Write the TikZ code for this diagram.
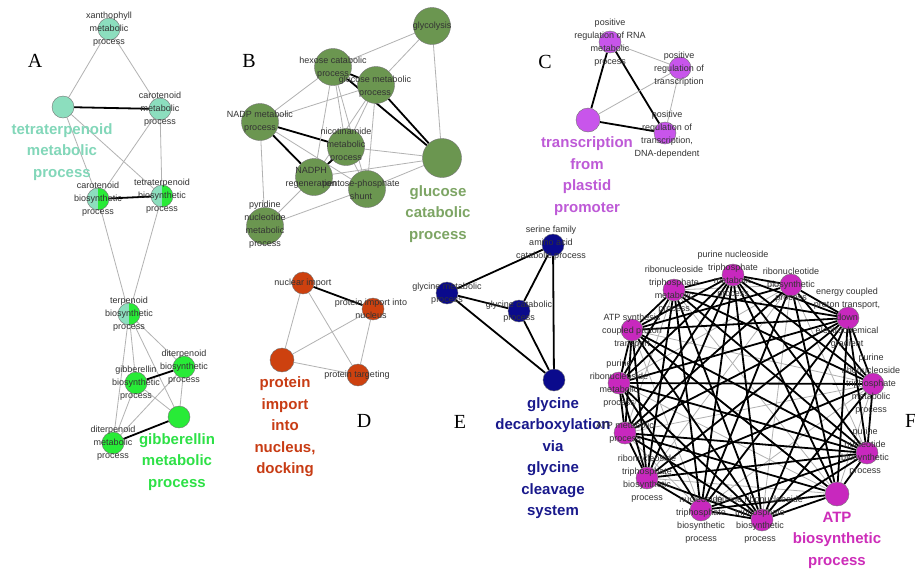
\documentclass[tikz,border=0pt]{standalone}
\usepackage{fontspec}
\setmainfont{Liberation Serif}
\setsansfont{Liberation Sans}
\usetikzlibrary{backgrounds}
\definecolor{aquaA}{RGB}{140,222,190}
\definecolor{aquaT}{RGB}{130,215,185}
\definecolor{greenA}{RGB}{40,235,55}
\definecolor{greenT}{RGB}{45,225,70}
\definecolor{oliveB}{RGB}{107,150,80}
\definecolor{oliveT}{RGB}{125,165,100}
\definecolor{purpleC}{RGB}{200,85,235}
\definecolor{purpleT}{RGB}{190,90,215}
\definecolor{redD}{RGB}{205,65,15}
\definecolor{redT}{RGB}{200,60,20}
\definecolor{blueE}{RGB}{10,10,140}
\definecolor{blueT}{RGB}{25,25,140}
\definecolor{magF}{RGB}{200,40,190}
\definecolor{magT}{RGB}{205,45,185}

\begin{document}
\begin{tikzpicture}[x=1pt,y=-1pt,
  term/.style={circle, draw=black!55, line width=0.4pt, minimum size=22pt, inner sep=0pt},
  bigterm/.style={term, minimum size=37pt},
  halfgreen/.style={path picture={\fill[greenA] (path picture bounding box.north) rectangle (path picture bounding box.south east);}},
  lbl/.style={font=\sffamily\fontsize{9}{13}\selectfont, text=black!80, align=center, inner sep=0pt},
  biglbl/.style={font=\sffamily\bfseries\fontsize{15}{21.5}\selectfont, align=center, inner sep=0pt},
  panel/.style={font=\fontsize{20}{24}\selectfont, inner sep=0pt},
  weak/.style={draw=black!30, line width=0.8pt},
  strong/.style={draw=black, line width=1.8pt}]
\useasboundingbox (0,0) rectangle (915,571);

% A
\node[term, fill=aquaA] (xan) at (109,29) {};
\node[term, fill=aquaA] (ttm) at (63,107) {};
\node[term, fill=aquaA] (carm) at (160,109) {};
\node[term, fill=aquaA, halfgreen] (carb) at (98,199) {};
\node[term, fill=aquaA, halfgreen] (ttb) at (162,196) {};
\node[term, fill=aquaA, halfgreen] (terb) at (129,314) {};
\node[term, fill=greenA] (dib) at (184,367) {};
\node[term, fill=greenA] (gib) at (136,383) {};
\node[term, fill=greenA] (gim) at (179,417) {};
\node[term, fill=greenA] (dim) at (113,443) {};
\node[lbl] at (xan) {xanthophyll\\metabolic\\process};
\node[lbl] at (carm) {carotenoid\\metabolic\\process};
\node[lbl] at (carb) {carotenoid\\biosynthetic\\process};
\node[lbl] at (ttb) {tetraterpenoid\\biosynthetic\\process};
\node[lbl] at (terb) {terpenoid\\biosynthetic\\process};
\node[lbl] at (dib) {diterpenoid\\biosynthetic\\process};
\node[lbl] at (gib) {gibberellin\\biosynthetic\\process};
\node[lbl] at (dim) {diterpenoid\\metabolic\\process};
\node[biglbl, text=aquaT] at (62,152) {tetraterpenoid\\metabolic\\process};
\node[biglbl, text=greenT] at (177,462) {gibberellin\\metabolic\\process};
\node[panel] at (35,61) {A};

% B
\node[bigterm, fill=oliveB] (gly) at (432,26) {};
\node[bigterm, fill=oliveB] (hex) at (333,67) {};
\node[bigterm, fill=oliveB] (glm) at (376,85) {};
\node[bigterm, fill=oliveB] (nadp) at (260,122) {};
\node[bigterm, fill=oliveB] (nic) at (346,147) {};
\node[bigterm, fill=oliveB] (nadph) at (314,177) {};
\node[bigterm, fill=oliveB] (pen) at (367,189) {};
\node[bigterm, fill=oliveB] (pyr) at (265,226) {};
\node[bigterm, fill=oliveB, minimum size=39pt] (glc) at (442,158) {};
\node[lbl] at (gly) {glycolysis};
\node[lbl] at (333,68) {hexose catabolic\\process};
\node[lbl] at (375,87) {glucose metabolic\\process};
\node[lbl] at (260,122) {NADP metabolic\\process};
\node[lbl] at (346,145) {nicotinamide\\metabolic\\process};
\node[lbl] at (311,178) {NADPH\\regeneration};
\node[lbl] at (361,190) {pentose-phosphate\\shunt};
\node[lbl] at (265,225) {pyridine\\nucleotide\\metabolic\\process};
\node[biglbl, text=oliveT] at (438,214) {glucose\\catabolic\\process};
\node[panel] at (249,61) {B};

% C
\node[term, fill=purpleC] (rna) at (610,42) {};
\node[term, fill=purpleC] (prt) at (680,68) {};
\node[term, fill=purpleC] (dna) at (665,133) {};
\node[term, fill=purpleC, minimum size=24pt] (tpp) at (588,120) {};
\node[lbl] at (610,43) {positive\\regulation of RNA\\metabolic\\process};
\node[lbl] at (679,69) {positive\\regulation of\\transcription};
\node[lbl] at (667,135) {positive\\regulation of\\transcription,\\DNA-dependent};
\node[biglbl, text=purpleT] at (587,176) {transcription\\from\\plastid\\promoter};
\node[panel] at (545,62) {C};

% D
\node[term, fill=redD] (nuc) at (303,283) {};
\node[term, fill=redD] (pin) at (373,309) {};
\node[term, fill=redD] (ptg) at (358,375) {};
\node[term, fill=redD, minimum size=24pt] (dock) at (282,360) {};
\node[lbl] at (nuc) {nuclear import};
\node[lbl] at (371,309) {protein import into\\nucleus};
\node[lbl] at (357,375) {protein targeting};
\node[biglbl, text=redT] at (285,427) {protein\\import\\into\\nucleus,\\docking};
\node[panel] at (364,421) {D};

% E
\node[term, fill=blueE] (ser) at (553,245) {};
\node[term, fill=blueE] (glym) at (447,293) {};
\node[term, fill=blueE] (glyc) at (519,311) {};
\node[term, fill=blueE] (dec) at (554,380) {};
\node[lbl] at (551,243) {serine family\\amino acid\\catabolic process};
\node[lbl] at (447,294) {glycine metabolic\\process};
\node[lbl] at (519,312) {glycine catabolic\\process};
\node[biglbl, text=blueT] at (553,458) {glycine\\decarboxylation\\via\\glycine\\cleavage\\system};
\node[panel] at (460,422) {E};

% F
\node[term, fill=magF] (f1) at (733,275) {};
\node[term, fill=magF] (f2) at (791,285) {};
\node[term, fill=magF] (f3) at (848,318) {};
\node[term, fill=magF] (f4) at (873,384) {};
\node[term, fill=magF] (f5) at (867,453) {};
\node[term, fill=magF, minimum size=24pt] (f6) at (837,494) {};
\node[term, fill=magF] (f7) at (762,520) {};
\node[term, fill=magF] (f8) at (701,510) {};
\node[term, fill=magF] (f9) at (647,478) {};
\node[term, fill=magF] (f10) at (625,433) {};
\node[term, fill=magF] (f11) at (619,383) {};
\node[term, fill=magF] (f12) at (632,330) {};
\node[term, fill=magF] (f13) at (674,290) {};
\node[lbl] at (733,275) {purine nucleoside\\triphosphate\\metabolic\\process};
\node[lbl] at (791,285) {ribonucleotide\\biosynthetic\\process};
\node[lbl] at (847,318) {energy coupled\\proton transport,\\down\\electrochemical\\gradient};
\node[lbl] at (871,384) {purine\\ribonucleoside\\triphosphate\\metabolic\\process};
\node[lbl] at (865,452) {purine\\nucleotide\\biosynthetic\\process};
\node[lbl] at (760,520) {purine ribonucleoside\\triphosphate\\biosynthetic\\process};
\node[lbl] at (701,520) {nucleoside\\triphosphate\\biosynthetic\\process};
\node[lbl] at (647,479) {ribonucleoside\\triphosphate\\biosynthetic\\process};
\node[lbl] at (625,433) {ATP metabolic\\process};
\node[lbl] at (619,384) {purine\\ribonucleoside\\metabolic\\process};
\node[lbl] at (632,331) {ATP synthesis\\coupled proton\\transport};
\node[lbl] at (674,290) {ribonucleoside\\triphosphate\\metabolic\\process};
\node[biglbl, text=magT] at (837,540) {ATP\\biosynthetic\\process};
\node[panel, anchor=west] at (905,421) {F};

\begin{scope}[on background layer]
  \fill[white] (0,0) rectangle (915,571);
  % A
  \draw[weak] (xan) -- (ttm);
  \draw[weak] (xan) -- (carm);
  \draw[strong] (ttm) -- (carm);
  \draw[weak] (ttm) -- (carb);
  \draw[weak] (ttm) -- (ttb);
  \draw[weak] (carm) -- (carb);
  \draw[weak] (carm) -- (ttb);
  \draw[strong] (carb) -- (ttb);
  \draw[weak] (carb) -- (terb);
  \draw[weak] (ttb) -- (terb);
  \draw[weak] (terb) -- (gib);
  \draw[weak] (terb) -- (dib);
  \draw[weak] (terb) -- (gim);
  \draw[weak] (terb) -- (dim);
  \draw[strong] (gib) -- (dib);
  \draw[strong] (dim) -- (gim);
  \draw[weak] (gib) -- (gim);
  \draw[weak] (gib) -- (dim);
  \draw[weak] (dib) -- (gim);
  \draw[weak] (dib) -- (dim);
  % B
  \draw[weak] (gly) -- (hex);
  \draw[weak] (gly) -- (glm);
  \draw[weak] (gly) -- (glc);
  \draw[strong] (hex) -- (glc);
  \draw[strong] (glm) -- (glc);
  \draw[strong] (hex) -- (glm);
  \draw[strong] (nadp) -- (nic);
  \draw[strong] (nadp) -- (nadph);
  \draw[strong] (nadph) -- (nic);
  \draw[weak] (nadp) -- (hex);
  \draw[weak] (nadp) -- (glm);
  \draw[weak] (nadp) -- (pyr);
  \draw[weak] (nadp) -- (pen);
  \draw[weak] (hex) -- (nic);
  \draw[weak] (hex) -- (nadph);
  \draw[weak] (hex) -- (pen);
  \draw[weak] (glm) -- (nic);
  \draw[weak] (glm) -- (nadph);
  \draw[weak] (glm) -- (pen);
  \draw[weak] (nic) -- (pen);
  \draw[weak] (nic) -- (glc);
  \draw[weak] (nadph) -- (glc);
  \draw[weak] (pen) -- (glc);
  \draw[weak] (pyr) -- (nadph);
  \draw[weak] (pyr) -- (pen);
  % C
  \draw[strong] (rna) -- (tpp);
  \draw[strong] (rna) -- (dna);
  \draw[strong] (tpp) -- (dna);
  \draw[weak] (rna) -- (prt);
  \draw[weak] (tpp) -- (prt);
  \draw[weak] (prt) -- (dna);
  % D
  \draw[strong] (nuc) -- (pin);
  \draw[weak] (nuc) -- (dock);
  \draw[weak] (nuc) -- (ptg);
  \draw[weak] (pin) -- (dock);
  \draw[weak] (pin) -- (ptg);
  \draw[weak] (dock) -- (ptg);
  % E
  \draw[strong] (ser) -- (glym);
  \draw[strong] (ser) -- (glyc);
  \draw[strong] (ser) -- (dec);
  \draw[strong] (glym) -- (glyc);
  \draw[strong] (glym) -- (dec);
  \draw[strong] (glyc) -- (dec);
  % F
  \foreach \i in {1,...,13}{
    \foreach \j in {1,...,13}{
      \ifnum\j>\i
        \pgfmathtruncatemacro\k{mod(\i+2*\j,4)}
        \ifnum\numexpr\j-\i\relax=1 \def\k{1}\fi
        \ifnum\k=0 \draw[weak] (f\i) -- (f\j); \fi
      \fi
    }
  }
  \foreach \i in {1,...,13}{
    \foreach \j in {1,...,13}{
      \ifnum\j>\i
        \pgfmathtruncatemacro\k{mod(\i+2*\j,4)}
        \ifnum\numexpr\j-\i\relax=1 \def\k{1}\fi
        \ifnum\k=0 \else \draw[strong] (f\i) -- (f\j); \fi
      \fi
    }
  }
\end{scope}
\end{tikzpicture}
\end{document}
